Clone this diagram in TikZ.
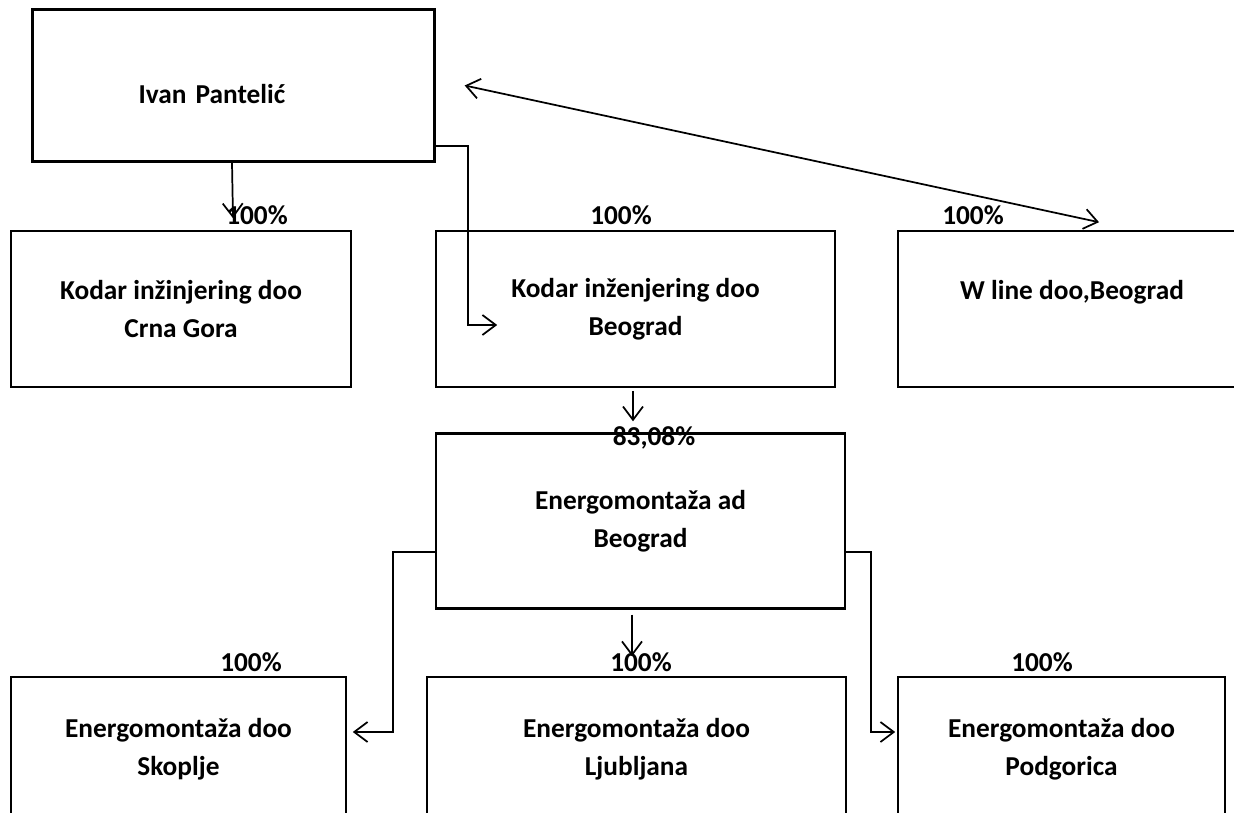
\documentclass[tikz,border=0pt]{standalone}
\usepackage{fontspec}
\setmainfont{Carlito}
\usetikzlibrary{arrows.meta,positioning,calc}

\begin{document}
\begin{tikzpicture}[
  x=0.75pt, y=-0.75pt,
  font=\fontsize{20.5}{28.9}\selectfont\bfseries,
  >={Straight Barb[length=10pt, width=15pt]},
  box/.style={draw, line width=1.2pt, align=center, inner sep=0pt},
  heavy/.style={box, line width=1.8pt},
  pct/.style={inner sep=0pt},
  ar/.style={->, line width=1.3pt}]
  \useasboundingbox (0,0) rectangle (1234,813);
  % owner
  \node[heavy, minimum width=301.5pt, minimum height=114pt, align=left,
        inner xsep=79.5pt, text width=142.5pt, text height=31pt, text depth=4pt]
        (ivan) at (233.5,85.5) {Ivan Pantelić};
  % first level
  \node[box, minimum width=255pt, minimum height=117pt] (kcg) at (181,309)
       {Kodar inžinjering doo\\Crna Gora};
  \node[box, minimum width=299.25pt, minimum height=117pt] (kbg) at (635.5,309)
       {Kodar inženjering doo\\Beograd};
  \node[box, minimum width=261pt, minimum height=117pt, text height=14pt, text depth=29pt]
       (wline) at (1072,309) {W line doo,Beograd};
  % second level
  \node[heavy, minimum width=306.75pt, minimum height=131.25pt] (energo) at (640.5,521)
       {Energomontaža ad\\Beograd};
  % third level
  \node[box, minimum width=251.25pt, minimum height=108pt] (skopje) at (178.5,749)
       {Energomontaža doo\\Skoplje};
  \node[box, minimum width=314.25pt, minimum height=108pt] (ljub) at (636.5,749)
       {Energomontaža doo\\Ljubljana};
  \node[box, minimum width=245.25pt, minimum height=108pt] (podg) at (1061.5,749)
       {Energomontaža doo\\Podgorica};
  % shares
  \foreach \n/\x/\y/\t in {pkcg/257/215/100\%, pkbg/621/215/100\%, pwl/973/215/100\%,
      pen/654/438/{83,08\%}, psk/251/662/100\%, plj/641/662/100\%, ppg/1042/662/100\%}
    \node[pct] (\n) at (\x,\y) {\t};
  % ownership links
  \draw[ar] ($(ivan.south)+(-1.5,0)$) -- ($(kcg.north)+(52,-12)$);
  \draw[ar] ($(ivan.south east)+(0,-17)$) -| ($(kbg.west)+(33,16)$)
            -- ($(kbg.west)+(62,16)$);
  \draw[ar, <->] ($(ivan.east)+(29,0)$) -- ($(wline.north)+(27,-8)$);
  \draw[ar] ($(kbg.south)+(-2.5,3)$) -- ($(energo.north)+(-7.5,-11)$);
  \draw[ar] ($(energo.south)+(-8.5,5)$) -- ($(ljub.north)+(-4.5,-20)$);
  \draw[ar] ($(energo.west)+(0,31)$) -| ($(skopje.east)+(46,-17)$)
            -- ($(skopje.east)+(6,-17)$);
  \draw[ar] ($(energo.east)+(0,31)$) -| ($(podg.west)+(-26,-17)$)
            -- ($(podg.west)+(-2,-17)$);
\end{tikzpicture}
\end{document}
